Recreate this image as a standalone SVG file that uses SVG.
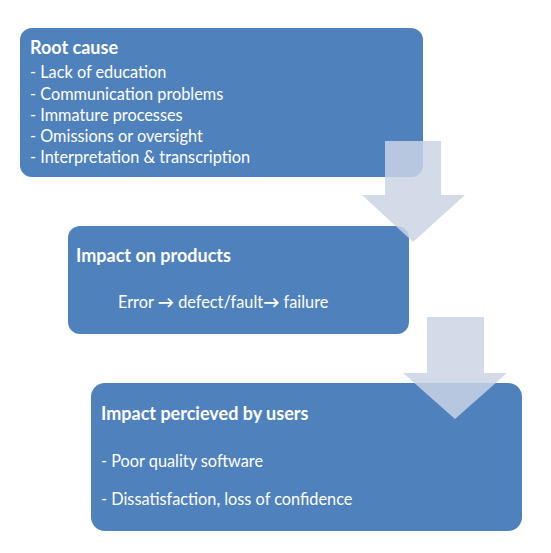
<svg xmlns="http://www.w3.org/2000/svg" width="551" height="553" viewBox="0 0 551 553">
<style>
.box{fill:#4f81bd;}
.arrow{fill:#cad4e5;fill-opacity:0.84;}
text{font-family:Lato,"Liberation Sans",sans-serif;fill:#ffffff;font-size:16.3px;}
.t{font-weight:bold;font-size:18px;}
</style>
<rect width="551" height="553" fill="#ffffff"/>
<g id="node-root">
<rect class="box" x="20" y="28" width="403" height="149" rx="12"/>
<text class="t" x="30" y="54">Root cause</text>
<text x="30" y="78">- Lack of education</text>
<text x="30" y="100">- Communication problems</text>
<text x="30" y="121">- Immature processes</text>
<text x="30" y="142">- Omissions or oversight</text>
<text x="30" y="163">- Interpretation &amp; transcription</text>
</g>
<g id="node-products">
<rect class="box" x="68" y="226" width="341" height="108" rx="12"/>
<text class="t" x="76" y="262">Impact on products</text>
<text x="118" y="308">Error <tspan font-weight="bold">→</tspan> defect/fault<tspan font-weight="bold">→</tspan> failure</text>
</g>
<g id="node-users">
<rect class="box" x="91" y="383" width="431" height="148" rx="14"/>
<text class="t" x="101" y="420">Impact percieved by users</text>
<text x="101" y="467">- Poor quality software</text>
<text x="101" y="505">- Dissatisfaction, loss of confidence</text>
</g>
<g id="connectors">
<polygon class="arrow" points="385,141 441,141 441,195 465,195 413,242 362,195 385,195"/>
<polygon class="arrow" points="427,317 484,317 484,373 507,373 455,419 403,373 427,373"/>
</g>
</svg>
